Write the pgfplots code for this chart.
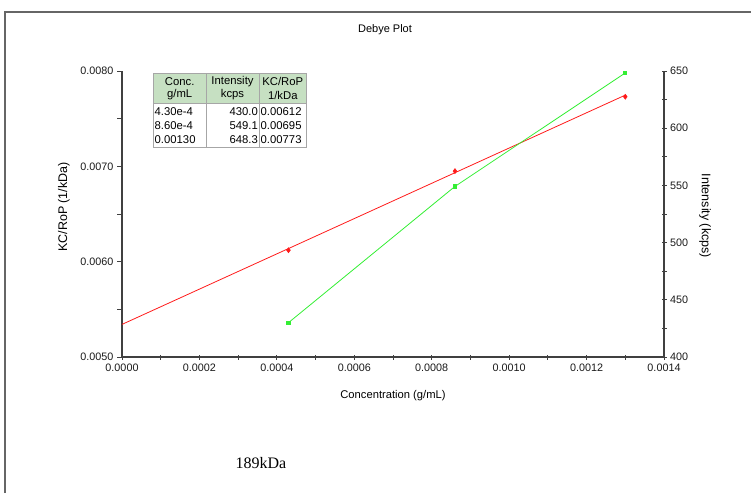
\documentclass[border=0pt]{standalone}
\usepackage{pgfplots}
\pgfplotsset{compat=1.18}
\usepackage{fontspec}
\setmainfont{Liberation Sans}
\newfontfamily\seriffont{Liberation Serif}
\definecolor{axgray}{HTML}{404040}
\definecolor{hdrgreen}{HTML}{C6E0C2}
\definecolor{redline}{HTML}{FF1A1A}
\definecolor{greenline}{HTML}{33EE33}
\begin{document}
\begin{tikzpicture}
\useasboundingbox (0,0) rectangle (751pt,493pt);
\pgfplotsset{
  every axis/.append style={
    scale only axis, width=542pt, height=286pt,
    at={(122pt,136pt)}, anchor=south west,
    xmin=0, xmax=0.0014,
    axis line style={axgray, line width=1.1pt},
    every tick/.style={axgray, line width=0.9pt},
    major tick length=5pt, minor tick length=5pt,
    tick label style={font=\fontsize{10.8}{12}\selectfont, text=black!90},
    /pgf/number format/assume math mode=true,
    scaled ticks=false,
    clip=false,
  }
}
% left y axis
\begin{axis}[
  axis y line*=left, axis x line=none,
  tick align=outside,
  ymin=0.005, ymax=0.008,
  ytick={0.005,0.006,0.007,0.008},
  yticklabels={0.0050,0.0060,0.0070,0.0080},
  minor y tick num=1,
]
\addplot[redline, line width=0.8pt, mark=none] coordinates {(0,0.005342) (0.0013,0.007747)};
\addplot[only marks, redline, mark=diamond*, mark size=2.6pt] coordinates {(0.00043,0.00612) (0.00086,0.00695) (0.0013,0.00773)};
\end{axis}
% bottom x axis
\begin{axis}[
  axis x line*=bottom, axis y line=none,
  tick align=center,
  ymin=0, ymax=1,
  xtick={0,0.0002,0.0004,0.0006,0.0008,0.0010,0.0012,0.0014},
  xticklabels={0.0000,0.0002,0.0004,0.0006,0.0008,0.0010,0.0012,0.0014},
  minor x tick num=1,
  x tick label style={yshift=-1pt},
]
\end{axis}
% right y axis
\begin{axis}[
  axis y line*=right, axis x line=none,
  tick align=center,
  ymin=400, ymax=650,
  ytick={400,450,500,550,600,650},
  minor y tick num=1,
]
\addplot[greenline, line width=0.8pt, mark=square*, mark size=1.6pt] coordinates {(0.00043,430.0) (0.00086,549.1) (0.0013,648.3)};
\end{axis}
\begin{scope}[shift={(0,493pt)}, x=1pt, y=-1pt]
  % frame
  \draw[gray!80!black, line width=1.4pt] (5,493) -- (5,12) -- (751,12);
  % title and labels
  \node[font=\fontsize{11}{13}\selectfont] at (385,30) {Debye Plot};
  \node[font=\fontsize{11.2}{13}\selectfont] at (393,396) {Concentration (g/mL)};
  \node[font=\fontsize{12.5}{14}\selectfont, rotate=90] at (64,207) {KC/RoP (1/kDa)};
  \node[font=\fontsize{12.5}{14}\selectfont, rotate=-90] at (705,216) {Intensity (kcps)};
  % table
  \fill[hdrgreen] (153.3,73.3) rectangle (306.7,103);
  \draw[gray!70, line width=0.8pt] (153.3,73.3) rectangle (306.7,147.3);
  \draw[gray!70, line width=0.8pt] (153.3,103) -- (306.7,103);
  \draw[gray!70, line width=0.8pt] (206,73.3) -- (206,147.3);
  \draw[gray!70, line width=0.8pt] (259,73.3) -- (259,147.3);
  \begin{scope}[every node/.style={font=\fontsize{11.3}{13}\selectfont, inner sep=0pt}]
    \node at (179.7,81.7) {Conc.};
    \node at (179.7,95) {g/mL};
    \node at (232.5,81.7) {Intensity};
    \node at (232.5,95) {kcps};
    \node at (282.8,81.7) {KC/RoP};
    \node at (282.8,95) {1/kDa};
    \node[anchor=west] at (154.5,111.7) {4.30e-4};
    \node[anchor=west] at (154.5,125.3) {8.60e-4};
    \node[anchor=west] at (154.5,139.3) {0.00130};
    \node[anchor=east] at (258,111.7) {430.0};
    \node[anchor=east] at (258,125.3) {549.1};
    \node[anchor=east] at (258,139.3) {648.3};
    \node[anchor=west] at (260.5,111.7) {0.00612};
    \node[anchor=west] at (260.5,125.3) {0.00695};
    \node[anchor=west] at (260.5,139.3) {0.00773};
  \end{scope}
  \node[font=\seriffont\fontsize{16}{18}\selectfont] at (261,463) {189kDa};
\end{scope}
\end{tikzpicture}
\end{document}
